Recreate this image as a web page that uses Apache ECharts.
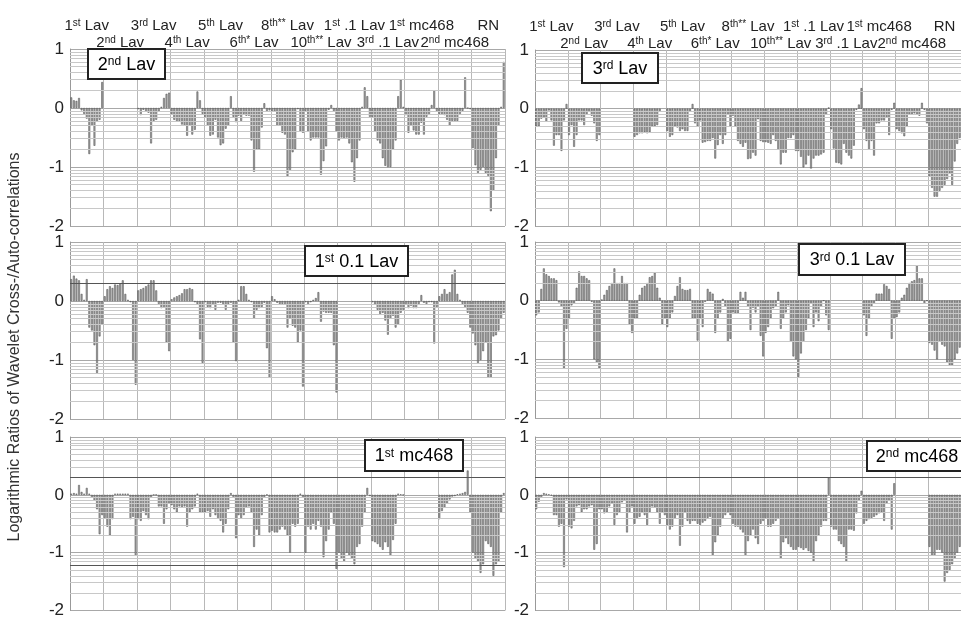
<!DOCTYPE html>
<html><head><meta charset="utf-8">
<script src="https://cdn.jsdelivr.net/npm/echarts@6/dist/echarts.min.js"></script>
<style>html,body{margin:0;padding:0;background:#fff}#c{width:961px;height:619px}</style>
</head><body><div id="c"></div>
<script>
// ---------------- data ----------------
const categories = ['1st Lav','2nd Lav','3rd Lav','4th Lav','5th Lav','6th* Lav','8th** Lav','10th** Lav','1st .1 Lav','3rd .1 Lav','1st mc468','2nd mc468','RN'];
const yTicks = [-2, -1, 0, 1];
const panelTitles = ['2nd Lav','3rd Lav','1st 0.1 Lav','3rd 0.1 Lav','1st mc468','2nd mc468'];
const selfGroup = [null,null,null,null,null,null,null,null,null,null,null,null,null];

const lav2nd = [
 [0.18,0.13,0.12,0.17,-0.04,-0.1,-0.18,-0.78,-0.3,-0.64,-0.23,-0.2,0.44],
 selfGroup,
 [-0.02,-0.12,-0.03,-0.05,-0.08,-0.6,-0.22,-0.2,-0.06,0.02,0.17,0.24,0.26],
 [-0.1,-0.2,-0.22,-0.22,-0.28,-0.3,-0.47,-0.3,-0.45,-0.37,0.28,0.13,-0.1],
 [-0.15,-0.3,-0.47,-0.45,-0.2,-0.5,-0.63,-0.6,-0.35,-0.3,0.2,-0.15,-0.24],
 [-0.13,-0.22,-0.1,-0.13,-0.13,-0.55,-1.08,-0.7,-0.7,-0.33,0.08,-0.05,-0.04],
 [-0.05,-0.06,-0.3,-0.3,-0.42,-0.45,-1.16,-1.05,-0.75,-0.7,-0.02,-0.4,-0.42],
 [-0.05,-0.4,-0.55,-0.5,-0.5,-0.5,-1.13,-0.9,-0.65,-0.03,0.05,-0.05,-0.4],
 [-0.55,-0.5,-0.52,-0.5,-0.6,-0.92,-1.25,-0.85,-0.55,0.02,0.35,0.2,-0.15],
 [-0.15,-0.4,-0.55,-0.6,-0.85,-0.98,-1.0,-1.0,-0.7,-0.55,0.2,0.48,0.02],
 [-0.12,-0.42,-0.3,-0.38,-0.45,-0.45,-0.25,-0.45,-0.15,-0.1,0.05,0.3,-0.05],
 [-0.1,-0.1,-0.12,-0.2,-0.3,-0.22,-0.22,-0.22,-0.1,-0.05,0.52,0.0,-0.02],
 [-0.68,-0.97,-1.1,-1.05,-1.0,-1.1,-1.15,-1.75,-1.4,-0.85,-0.3,0.02,0.78]
];
const lav3rd = [
 [-0.3,-0.3,-0.17,-0.15,-0.22,-0.03,-0.2,-0.63,-0.45,-0.45,-0.72,-0.2,0.08],
 [-0.45,-0.28,-0.65,-0.45,-0.2,-0.2,-0.28,-0.1,-0.05,-0.12,-0.25,-0.55,-0.45],
 selfGroup,
 [-0.48,-0.45,-0.42,-0.42,-0.4,-0.42,-0.4,-0.3,-0.3,-0.28,-0.04,null,null],
 [-0.38,-0.48,-0.45,-0.3,-0.32,-0.38,-0.35,-0.38,-0.38,-0.05,0.08,-0.25,-0.3],
 [-0.2,-0.58,-0.57,-0.55,-0.55,-0.5,-0.85,-0.62,-0.45,-0.6,-0.45,-0.1,-0.3],
 [-0.12,-0.3,-0.55,-0.6,-0.65,-0.58,-0.86,-0.85,-0.75,-0.8,-0.18,-0.55,-0.57],
 [-0.57,-0.58,-0.6,-0.45,-0.55,-0.7,-0.95,-0.75,-0.75,-0.5,-0.5,-0.45,-0.72],
 [-0.72,-0.82,-1.0,-0.95,-0.8,-1.02,-0.85,-0.8,-0.8,-0.78,-0.75,-0.1,0.02],
 [-0.35,-0.68,-0.92,-0.93,-0.95,-0.6,-0.75,-0.8,-0.85,-0.63,-0.02,0.07,0.35],
 [-0.35,-0.55,-0.7,-0.55,-0.8,-0.25,-0.25,-0.2,-0.2,-0.15,-0.45,-0.02,0.1],
 [-0.35,-0.38,-0.42,-0.47,-0.3,-0.1,-0.1,-0.08,-0.1,-0.12,0.1,-0.02,-0.25],
 [-1.15,-1.35,-1.5,-1.5,-1.4,-1.35,-1.3,-1.2,-1.1,-1.3,-0.9,-0.6,-0.5]
];
const lav01_1st = [
 [0.37,0.43,0.38,0.35,0.12,0.02,0.37,-0.45,-0.5,-0.75,-1.22,-0.6,-0.4],
 [0.08,0.2,0.25,0.22,0.28,0.27,0.3,0.35,0.12,0.02,-0.02,-1.0,-1.42],
 [0.18,0.2,0.22,0.25,0.28,0.35,0.35,0.18,-0.05,-0.12,-0.1,-0.7,-0.85],
 [0.03,0.06,0.08,0.1,0.13,0.2,0.2,0.22,0.2,-0.02,-0.05,-0.65,-1.05],
 [-0.02,-0.1,-0.12,-0.05,-0.15,-0.03,-0.03,-0.05,-0.15,-0.05,-0.03,-0.7,-1.02],
 [0.02,0.25,0.25,0.12,0.02,-0.02,-0.3,-0.15,-0.12,-0.1,-0.03,-0.8,-1.3],
 [0.08,0.03,-0.03,-0.05,-0.05,-0.05,-0.45,-0.3,-0.42,-0.45,-0.7,-0.5,-1.45],
 [-0.02,-0.05,-0.02,0.02,0.05,0.15,-0.35,-0.18,-0.2,-0.2,-0.2,-0.75,-1.55],
 selfGroup,
 [-0.02,-0.06,-0.15,-0.22,-0.2,-0.33,-0.57,-0.3,-0.25,-0.45,-0.4,-0.2,-0.15],
 [-0.05,-0.12,-0.08,-0.12,-0.12,-0.05,0.1,-0.03,-0.05,-0.02,-0.02,-0.72,-0.1],
 [0.08,0.12,0.2,0.12,0.15,0.45,0.53,0.12,0.02,-0.05,-0.1,-0.2,-0.45],
 [-0.55,-0.75,-1.05,-1.0,-0.85,-0.7,-1.3,-1.3,-0.6,-0.58,-0.5,-0.3,-0.2]
];
const lav01_3rd = [
 [-0.25,-0.2,0.2,0.55,0.45,0.42,0.38,0.38,0.35,-0.03,-0.1,-1.15,-0.48],
 [-0.3,-0.08,-0.05,0.22,0.5,0.42,0.42,0.38,0.35,-0.02,-1.0,-1.05,-1.15],
 [0.02,0.1,0.18,0.25,0.3,0.55,0.3,0.3,0.42,0.3,0.3,-0.4,-0.55],
 [-0.3,-0.3,0.1,0.22,0.25,0.3,0.4,0.42,0.48,0.22,0.05,-0.4,-0.3],
 [-0.45,-0.3,-0.2,0.08,0.25,0.4,0.2,0.18,0.18,0.2,-0.3,-0.3,-0.68],
 [-0.3,-0.45,-0.02,0.2,0.15,0.12,-0.55,-0.3,-0.2,0.03,-0.1,-0.7,-0.65],
 [-0.2,-0.22,-0.22,0.15,0.05,0.15,-0.1,-0.5,-0.12,-0.2,-0.1,-0.6,-0.95],
 [-0.55,-0.45,-0.3,-0.13,-0.1,0.15,-0.48,-0.3,-0.2,-0.08,-0.7,-0.95,-1.0],
 [-1.3,-0.9,-0.7,-0.5,-0.3,-0.05,-0.45,-0.2,-0.35,-0.1,0.0,-0.25,-0.5],
 selfGroup,
 [-0.25,-0.6,-0.3,-0.1,-0.05,0.12,0.12,0.12,0.28,0.25,0.2,-0.65,-0.3],
 [-0.28,-0.2,0.05,0.1,0.22,0.3,0.33,0.35,0.6,0.38,0.38,-0.05,0.0],
 [-0.72,-0.75,-0.85,-1.0,-0.7,-0.75,-0.78,-1.05,-1.1,-1.1,-1.0,-0.9,-0.8]
];
const mc468_1st = [
 [0.02,0.03,0.02,0.17,0.05,0.02,0.12,0.02,-0.05,-0.1,-0.25,-0.68,-0.35],
 [-0.4,-0.55,-0.7,-0.42,0.02,0.02,0.02,0.02,0.02,0.02,-0.42,-0.38,-1.05],
 [-0.42,-0.45,-0.28,-0.35,-0.42,-0.05,0.0,0.0,-0.2,-0.2,-0.5,-0.25,-0.15],
 [-0.18,-0.25,-0.3,-0.2,-0.22,-0.2,-0.55,-0.3,-0.25,-0.2,0.02,-0.3,-0.3],
 [-0.3,-0.28,-0.38,-0.25,-0.35,-0.4,-0.45,-0.65,-0.5,-0.25,0.03,-0.05,-0.75],
 [-0.35,-0.4,-0.35,-0.22,-0.2,-0.3,-0.9,-0.6,-0.7,-0.35,-0.05,0.0,-0.65],
 [-0.62,-0.65,-0.65,-0.6,-0.55,-0.6,-0.7,-1.0,-0.5,-0.55,-0.5,0.02,-0.05],
 [-1.0,-0.55,-0.6,-0.5,-0.6,-0.45,-0.55,-1.08,-0.8,-0.6,-0.3,-0.5,-1.28],
 [-1.0,-1.1,-1.15,-1.0,-1.05,-1.1,-1.2,-0.9,-0.85,-0.55,-0.3,0.12,-0.02],
 [-0.8,-0.82,-0.85,-0.9,-0.95,-0.82,-0.9,-1.05,-0.78,-0.5,0.02,0.01,0.0],
 selfGroup,
 [-0.42,-0.28,-0.22,-0.15,-0.08,-0.03,-0.02,0.01,0.02,0.03,0.05,0.42,-0.3],
 [-1.0,-1.1,-1.15,-1.35,-1.2,-0.8,-0.85,-0.9,-1.4,-1.2,-1.15,-0.3,0.03]
];
const mc468_2nd = [
 [-0.25,-0.12,-0.05,0.03,0.02,0.01,-0.01,-0.35,-0.35,-0.55,-0.5,-1.25,-0.08],
 [-0.55,-0.58,-0.45,-0.2,-0.18,-0.3,-0.25,-0.25,-0.2,-0.18,-0.95,-0.85,-0.25],
 [-0.25,-0.32,-0.3,-0.2,-0.15,-0.52,-0.35,-0.3,-0.13,-0.1,-0.65,-0.3,-0.2],
 [-0.5,-0.4,-0.38,-0.3,-0.35,-0.52,-0.3,-0.2,-0.22,-0.3,-0.5,-0.3,-0.35],
 [-0.52,-0.6,-0.55,-0.4,-0.35,-0.88,-0.55,-0.3,-0.45,-0.5,-0.45,-0.45,-0.5],
 [-0.52,-0.48,-0.45,-0.4,-0.38,-1.05,-0.82,-0.7,-0.55,-0.4,-0.35,-0.3,-0.35],
 [-0.5,-0.55,-0.55,-0.6,-0.65,-1.05,-0.8,-0.7,-0.6,-0.75,-0.85,-0.5,-0.45],
 [-0.4,-0.55,-0.55,-0.5,-0.45,-0.4,-1.1,-0.82,-0.75,-0.85,-0.9,-0.95,-0.95],
 [-0.9,-0.92,-0.95,-0.92,-0.97,-1.0,-1.15,-0.8,-0.7,-0.55,-0.45,-0.45,0.3],
 [-0.55,-0.6,-0.6,-0.8,-0.85,-0.9,-1.15,-0.6,-0.6,-0.62,-0.32,-0.1,0.07],
 [-0.5,-0.45,-0.42,-0.4,-0.38,-0.35,-0.32,-0.3,-0.45,-0.15,-0.1,-0.6,0.2],
 selfGroup,
 [-0.9,-1.05,-1.05,-0.95,-0.95,-1.0,-1.5,-1.35,-1.3,-1.2,-1.1,-1.0,-0.9]
];
const panelData = [lav2nd, lav3rd, lav01_1st, lav01_3rd, mc468_1st, mc468_2nd];
// darker reference lines per panel
const refLines = [[], [], [0.301], [], [0.301, -1.22], [0.301]];

// ---------------- layout ----------------
const FONT = 'Arial, "Liberation Sans", Helvetica, sans-serif';
const layout = [
  {left: 70,  top: 49,  width: 435,   height: 177, box: [88, 49, 77, 30]},
  {left: 535, top: 50,  width: 433.3, height: 176, box: [582, 53, 76, 30]},
  {left: 70,  top: 242, width: 435,   height: 177, box: [305, 246, 103, 30]},
  {left: 535, top: 242, width: 433.3, height: 176, box: [799, 244, 106, 31]},
  {left: 70,  top: 437, width: 435,   height: 176, box: [365, 440, 98, 31]},
  {left: 535, top: 437, width: 433.3, height: 176, box: [867, 441, 100, 30]}
];

// log-style minor grid lines inside each decade
const minorLines = [];
[-2, -1, 0].forEach(d => { for (let k = 2; k <= 9; k++) minorLines.push(d + Math.log10(k)); });

function rich(t, a, b) {
  const m = t.match(/^(\d+)(st|nd|rd|th\**)(.*)$/);
  if (!m) return '{' + a + '|' + t + '}';
  return '{' + a + '|' + m[1] + '}{' + b + '|' + m[2] + '}{' + a + '|' + m[3] + '}';
}

const catNames = [];
categories.forEach(c => { for (let i = 1; i <= 13; i++) catNames.push(c + ' #' + i); });

const labelRich = {
  n: {fontSize: 15, fontFamily: FONT, color: '#222', verticalAlign: 'bottom'},
  s: {fontSize: 10, fontFamily: FONT, color: '#222', verticalAlign: 'top'}
};
const boxRich = {
  n: {fontSize: 18, fontFamily: FONT, color: '#111', verticalAlign: 'bottom'},
  s: {fontSize: 12, fontFamily: FONT, color: '#111', verticalAlign: 'top'}
};

const grids = [], xAxes = [], yAxes = [], series = [];
const graphics = [{
  type: 'text', x: 15, y: 347, rotation: Math.PI / 2, z: 100,
  style: {text: 'Logarithmic Ratios of Wavelet Cross-/Auto-correlations', font: '16px ' + FONT,
          fill: '#333', align: 'center', verticalAlign: 'middle'}
}];

layout.forEach((L, p) => {
  grids.push({left: L.left, top: L.top, width: L.width, height: L.height});
  const catIdx = xAxes.length;
  xAxes.push({type: 'category', gridIndex: p, data: catNames, show: false, boundaryGap: true});
  xAxes.push({type: 'value', gridIndex: p, min: 0, max: 13, interval: 1,
    axisLine: {show: false}, axisTick: {show: false}, axisLabel: {show: false},
    splitLine: {show: true, lineStyle: {color: '#b8b8b8', width: 1}}});
  if (p < 2) {
    [0, 1].forEach(row => {
      xAxes.push({type: 'category', gridIndex: p, position: 'top', data: categories,
        axisLine: {show: false}, axisTick: {show: false}, splitLine: {show: false},
        axisLabel: {interval: 0, margin: row === 0 ? 16 : -1,
          formatter: (v, i) => (i % 2 === row ? rich(v, 'n', 's') : ''),
          rich: labelRich}});
    });
  }
  yAxes.push({type: 'value', gridIndex: p, min: yTicks[0], max: yTicks[yTicks.length - 1], interval: 1,
    axisLine: {show: true, lineStyle: {color: '#999'}}, axisTick: {show: false},
    axisLabel: {fontSize: 17, fontFamily: FONT, color: '#222', margin: 6},
    splitLine: {show: true, lineStyle: {color: '#a8a8a8'}}});
  const flat = [];
  panelData[p].forEach(g => g.forEach(v => flat.push(v)));
  const mlData = minorLines.map(v => ({yAxis: v}));
  refLines[p].forEach(v => mlData.push({yAxis: v, lineStyle: {color: '#555', width: 1.2}}));
  // grid-line carrier (behind the bars)
  series.push({type: 'line', xAxisIndex: catIdx, yAxisIndex: p, data: [], z: 1, silent: true,
    markLine: {silent: true, symbol: ['none', 'none'], label: {show: false},
      lineStyle: {color: '#c8c8c8', width: 1, type: 'solid'}, data: mlData, animation: false}});
  series.push({type: 'bar', xAxisIndex: catIdx, yAxisIndex: p, data: flat, barWidth: 1.8, z: 3,
    itemStyle: {color: '#a8a8a8', borderColor: '#444', borderWidth: 0.5},
    emphasis: {disabled: true}, silent: true});
  const b = L.box;
  graphics.push({type: 'rect', z: 100, shape: {x: b[0], y: b[1], width: b[2], height: b[3]},
    style: {fill: '#fff', stroke: '#222', lineWidth: 2}});
  graphics.push({type: 'text', z: 101, x: b[0] + b[2] / 2, y: b[1] + b[3] / 2 + 1,
    style: {text: rich(panelTitles[p], 'n', 's'), rich: boxRich, align: 'center', verticalAlign: 'middle', font: '18px ' + FONT}});
});

const chart = echarts.init(document.getElementById('c'), null, {renderer: 'canvas'});
chart.setOption({
  animation: false,
  backgroundColor: '#fff',
  grid: grids, xAxis: xAxes, yAxis: yAxes, series: series, graphic: graphics
});
</script>
</body></html>
